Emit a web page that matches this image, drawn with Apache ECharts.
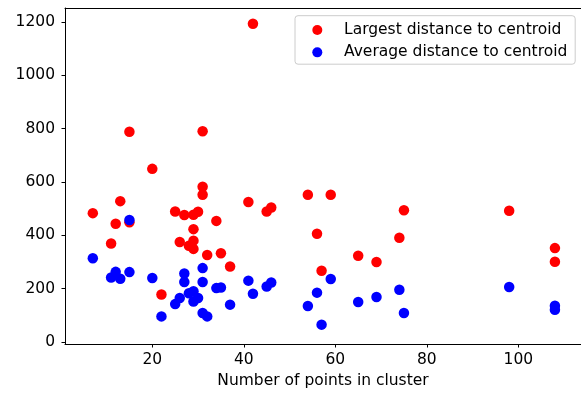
<!DOCTYPE html>
<html>
<head>
<meta charset="utf-8">
<script src="https://cdn.jsdelivr.net/npm/echarts@6/dist/echarts.min.js"></script>
<style>html,body{margin:0;padding:0;background:#fff}#c{width:581px;height:394px}</style>
</head>
<body>
<div id="c"></div>
<script>
// Cluster sizes (x) and distances (y)
var largestX = [7, 11, 12, 13, 15, 15, 20, 22, 25, 26, 27, 28, 29, 29, 29, 29, 30, 31, 31, 31, 32, 34, 35, 37, 41, 42, 45, 46, 54, 56, 57, 59, 65, 69, 74, 75, 98, 108, 108];
var largestY = [483, 369, 443, 528, 449, 788, 649, 178, 489, 375, 476, 361, 423, 477, 380, 349, 488, 790, 582, 552, 326, 454, 333, 283, 525, 1193, 489, 504, 552, 406, 267, 552, 323, 300, 391, 494, 492, 352, 301];
var averageX = [7, 11, 12, 13, 15, 15, 20, 22, 25, 26, 27, 27, 28, 29, 29, 30, 31, 31, 31, 32, 34, 35, 37, 41, 42, 45, 46, 54, 56, 57, 59, 65, 69, 74, 75, 98, 108, 108];
var averageY = [314, 242, 263, 237, 262, 457, 240, 96, 142, 165, 257, 225, 183, 190, 152, 165, 277, 225, 109, 96, 202, 204, 140, 230, 181, 208, 223, 135, 185, 65, 236, 150, 169, 196, 109, 206, 136, 121];
var xTicks = [20, 40, 60, 80, 100];
var yTicks = [0, 200, 400, 600, 800, 1000, 1200];
var seriesNames = ['Largest distance to centroid', 'Average distance to centroid'];
var xName = 'Number of points in cluster';

function pairs(xs, ys) { return xs.map(function (x, i) { return [x, ys[i]]; }); }

var FONT = 'DejaVu Sans';
var FS = 15.5;
var chart = echarts.init(document.getElementById('c'), null, { renderer: 'canvas' });
chart.setOption({
  animation: false,
  backgroundColor: '#fff',
  textStyle: { fontFamily: FONT },
  grid: { left: 65, top: 8, right: 0, bottom: 49.7 },
  legend: {
    data: seriesNames,
    orient: 'vertical',
    left: 295, top: 15.7,
    padding: [6.25, 7.9, 3.85, 17.3],
    itemWidth: 43.4, itemHeight: 10, itemGap: 6.4,
    icon: 'circle',
    backgroundColor: 'rgba(255,255,255,0.8)',
    borderColor: '#cccccc', borderWidth: 1, borderRadius: 3,
    textStyle: { fontFamily: FONT, fontSize: FS, color: '#000', lineHeight: FS }
  },
  xAxis: [{
    type: 'value', min: 0.92, max: 113.7, position: 'bottom',
    splitLine: { show: false },
    axisLine: { show: true, onZero: false, lineStyle: { color: '#000', width: 1 } },
    axisTick: { show: true, length: 3.5, lineStyle: { color: '#000' }, customValues: xTicks },
    axisLabel: { color: '#000', fontSize: FS, fontFamily: FONT, margin: 8, customValues: xTicks,
      formatter: function (v) { return String(v); } },
    name: xName, nameLocation: 'middle', nameGap: 29,
    nameTextStyle: { color: '#000', fontSize: FS, fontFamily: FONT, verticalAlign: 'top' }
  }, {
    type: 'value', min: 0.92, max: 113.7, position: 'top',
    splitLine: { show: false },
    axisLine: { show: true, onZero: false, lineStyle: { color: '#000', width: 1 } },
    axisTick: { show: false }, axisLabel: { show: false }
  }],
  yAxis: {
    type: 'value', min: -7.5, max: 1252,
    splitLine: { show: false },
    axisLine: { show: true, onZero: false, lineStyle: { color: '#000', width: 1 } },
    axisTick: { show: true, length: 3.5, lineStyle: { color: '#000' }, customValues: yTicks },
    axisLabel: { color: '#000', fontSize: FS, fontFamily: FONT, margin: 10, customValues: yTicks,
      formatter: function (v) { return String(v); } }
  },
  series: [{
    name: seriesNames[0], type: 'scatter', xAxisIndex: 0,
    data: pairs(largestX, largestY), symbol: 'circle', symbolSize: 10.5,
    itemStyle: { color: '#ff0000', opacity: 1 }
  }, {
    name: seriesNames[1], type: 'scatter', xAxisIndex: 0,
    data: pairs(averageX, averageY), symbol: 'circle', symbolSize: 10.5,
    itemStyle: { color: '#0000ff', opacity: 1 }
  }]
});
</script>
</body>
</html>
